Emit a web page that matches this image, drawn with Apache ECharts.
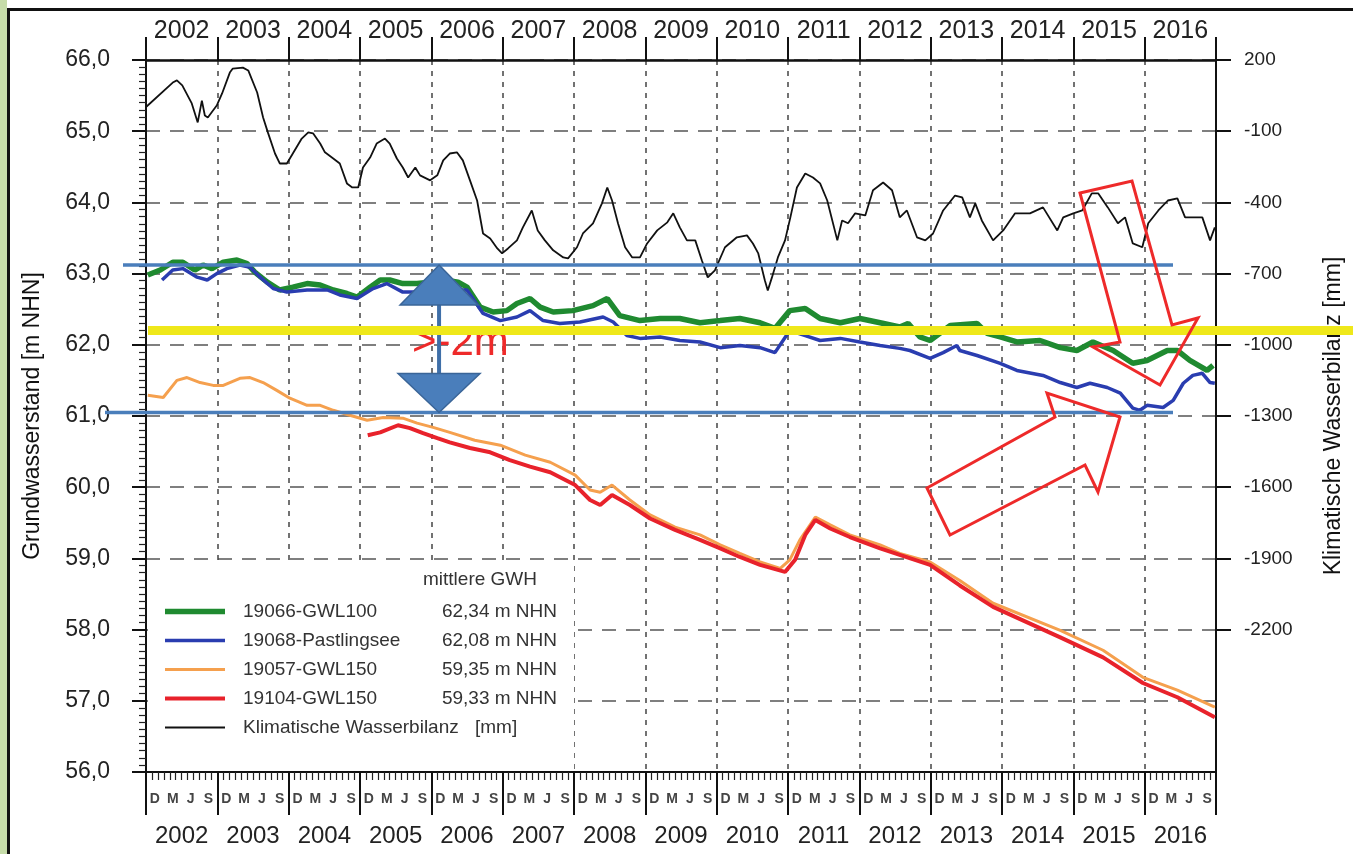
<!DOCTYPE html>
<html><head><meta charset="utf-8">
<script src="https://cdn.jsdelivr.net/npm/echarts@6/dist/echarts.min.js"></script>
<style>html,body{margin:0;padding:0;background:#fff;}#c{width:1353px;height:854px;}</style>
</head><body><div id="c"></div>
<script>
// x values: months since 1 Nov 2001 (start of hydrological year 2002)
const yearLabels = ['2002','2003','2004','2005','2006','2007','2008','2009','2010','2011','2012','2013','2014','2015','2016'];
const monthShown = {1:'D',4:'M',7:'J',10:'S'};
const kwbTicks = [200,-100,-400,-700,-1000,-1300,-1600,-1900,-2200];

const gwl100 = [[0.3,62.98],[2.4,63.05],[4.5,63.16],[6.2,63.16],[8.2,63.05],[9.6,63.12],[11.1,63.07],[13.0,63.16],[15.3,63.19],[17.0,63.14],[18.3,63.02],[20.4,62.88],[22.5,62.77],[24.7,62.81],[27.1,62.86],[29.3,62.84],[31.5,62.77],[33.8,62.72],[35.5,62.67],[37.7,62.81],[39.4,62.91],[41.0,62.91],[43.2,62.86],[45.6,62.86],[47.8,62.88],[50.3,62.91],[52.5,62.88],[54.0,62.81],[56.2,62.53],[58.4,62.46],[60.7,62.48],[62.4,62.58],[64.6,62.65],[66.3,62.53],[68.5,62.46],[71.8,62.48],[75.2,62.55],[77.6,62.65],[79.7,62.41],[83.1,62.34],[86.5,62.37],[89.8,62.37],[93.2,62.31],[96.6,62.34],[99.9,62.37],[103.3,62.31],[105.8,62.23],[108.3,62.48],[110.9,62.51],[113.4,62.37],[116.8,62.31],[120.1,62.37],[123.5,62.31],[126.8,62.25],[128.2,62.30],[130.2,62.11],[131.9,62.06],[135.3,62.27],[139.8,62.30],[141.5,62.16],[143.7,62.11],[146.5,62.04],[150.4,62.06],[153.8,61.96],[156.6,61.92],[159.3,62.04],[162.7,61.92],[166.0,61.74],[168.4,61.78],[171.8,61.92],[173.5,61.92],[175.6,61.78],[178.5,61.64],[179.5,61.71]];

const pastlingsee = [[2.7,62.91],[4.5,63.05],[6.2,63.07],[8.6,62.95],[10.3,62.91],[11.9,63.00],[13.6,63.07],[15.8,63.12],[17.5,63.09],[19.2,62.95],[21.4,62.79],[23.7,62.74],[27.1,62.77],[30.5,62.77],[32.6,62.70],[35.5,62.65],[38.2,62.79],[40.5,62.86],[43.2,62.74],[46.1,62.74],[49.5,62.74],[52.0,62.77],[54.0,62.77],[56.7,62.44],[59.6,62.34],[62.4,62.39],[64.6,62.48],[66.8,62.34],[69.6,62.30],[73.0,62.32],[76.9,62.39],[78.6,62.32],[80.9,62.13],[83.1,62.09],[86.5,62.11],[89.8,62.06],[93.2,62.04],[96.6,61.96],[99.9,61.99],[103.3,61.96],[105.8,61.89],[108.3,62.20],[110.9,62.13],[113.4,62.06],[116.8,62.09],[120.1,62.04],[123.5,61.99],[126.8,61.95],[128.5,61.92],[131.9,61.81],[134.1,61.89],[136.4,61.99],[136.9,61.92],[139.8,61.85],[143.7,61.74],[146.5,61.64],[150.9,61.57],[153.8,61.47],[156.6,61.40],[158.8,61.46],[161.7,61.40],[163.9,61.32],[166.0,61.11],[167.2,61.08],[168.4,61.15],[171.1,61.12],[172.8,61.22],[174.5,61.46],[176.1,61.57],[177.7,61.60],[179.0,61.47],[179.8,61.46]];

const gwl150a = [[0.3,61.29],[2.9,61.26],[5.2,61.50],[6.9,61.54],[9.1,61.47],[11.3,61.43],[13.0,61.43],[15.8,61.53],[17.5,61.54],[19.7,61.47],[22.0,61.36],[24.2,61.25],[27.1,61.15],[29.3,61.15],[31.5,61.08],[34.3,61.01],[37.2,60.94],[39.9,60.98],[43.2,60.97],[45.6,60.90],[48.3,60.84],[51.1,60.77],[55.3,60.66],[59.6,60.59],[63.8,60.45],[68.0,60.35],[72.2,60.17],[74.7,59.96],[76.4,59.93],[78.4,60.03],[81.4,59.82],[84.8,59.61],[89.0,59.44],[93.2,59.33],[96.6,59.19],[99.9,59.07],[103.3,58.95],[106.7,58.86],[108.3,58.98],[110.0,59.26],[112.6,59.58],[115.1,59.47],[118.4,59.33],[123.5,59.19],[126.8,59.07],[131.9,58.95],[136.9,58.69],[142.5,58.37],[153.8,57.99],[161.0,57.71],[167.7,57.33],[173.5,57.15],[179.8,56.91]];

const gwl150b = [[37.3,60.73],[39.4,60.77],[42.4,60.87],[44.4,60.83],[46.6,60.76],[49.0,60.69],[51.1,60.63],[54.5,60.55],[57.9,60.49],[61.2,60.38],[64.6,60.29],[68.0,60.21],[72.2,60.03],[74.7,59.82],[76.4,59.75],[78.4,59.89],[81.4,59.75],[84.8,59.56],[89.0,59.40],[93.2,59.26],[96.6,59.14],[99.9,59.02],[103.3,58.91],[107.5,58.81],[109.2,58.98],[110.9,59.33],[112.6,59.54],[115.1,59.42],[118.4,59.30],[123.5,59.14],[126.8,59.05],[131.9,58.91],[136.9,58.62],[142.5,58.32],[153.8,57.89],[161.0,57.61],[167.7,57.25],[173.5,57.05],[179.8,56.77]];

const kwb = [[0.1,4],[4.5,105],[5.2,114],[6.1,93],[7.7,17],[8.7,-63],[9.4,29],[9.9,-34],[10.4,-42],[11.9,8],[12.8,59],[14.1,147],[14.6,164],[16.3,168],[17.2,156],[18.7,63],[19.7,-42],[20.5,-105],[21.7,-194],[22.5,-236],[23.7,-236],[24.7,-194],[26.2,-131],[27.3,-105],[28.1,-109],[29.3,-152],[30.1,-189],[31.5,-215],[32.6,-236],[33.8,-320],[34.7,-337],[35.7,-337],[36.5,-253],[37.7,-211],[38.8,-152],[40.2,-131],[41.0,-152],[42.2,-215],[43.2,-253],[44.1,-295],[45.3,-253],[46.1,-286],[47.8,-307],[49.0,-286],[50.0,-223],[51.1,-194],[52.3,-189],[53.3,-223],[54.5,-307],[55.7,-392],[56.7,-531],[57.9,-552],[59.1,-594],[59.9,-615],[60.9,-594],[62.4,-560],[63.4,-505],[64.9,-434],[65.9,-518],[67.1,-560],[68.5,-602],[70.2,-632],[71.0,-636],[72.5,-589],[73.5,-531],[75.2,-488],[76.7,-404],[77.6,-337],[78.4,-392],[79.4,-488],[80.6,-589],[81.8,-632],[83.1,-632],[84.3,-573],[86.0,-518],[87.7,-484],[88.7,-446],[89.8,-505],[91.0,-560],[92.4,-560],[93.5,-644],[94.5,-716],[95.7,-686],[97.4,-589],[99.4,-547],[101.1,-539],[102.1,-573],[103.0,-615],[104.1,-728],[104.6,-771],[105.3,-716],[106.3,-632],[107.5,-560],[108.4,-463],[109.5,-337],[110.9,-278],[112.2,-295],[113.4,-320],[114.6,-392],[116.3,-560],[117.1,-476],[118.1,-488],[119.3,-446],[121.0,-455],[122.3,-349],[124.0,-316],[125.5,-349],[126.8,-463],[128.0,-434],[129.7,-547],[131.1,-560],[132.4,-531],[134.1,-434],[136.1,-371],[137.3,-379],[138.6,-463],[139.5,-404],[140.6,-476],[142.5,-560],[144.2,-518],[146.2,-446],[148.7,-446],[150.9,-421],[153.3,-518],[154.3,-463],[156.0,-446],[157.5,-434],[159.1,-362],[160.2,-362],[161.8,-421],[163.5,-488],[164.7,-463],[166.0,-573],[167.6,-589],[168.6,-488],[170.3,-434],[171.9,-392],[173.5,-383],[174.8,-463],[176.1,-463],[177.7,-463],[179.0,-560],[179.8,-505]];

const seriesNames = ['19066-GWL100','19068-Pastlingsee','19057-GWL150','19104-GWL150','Klimatische Wasserbilanz'];
const meanLevels = ['62,34 m NHN','62,08 m NHN','59,35 m NHN','59,33 m NHN'];
const seriesColors = ['#1f8a30','#2a3db0','#f5a04e','#e8222b','#111111'];
const seriesWidths = [5.5, 3.5, 3, 4, 1.8];

// annotation levels
const levelTop = 63.12, levelBottom = 61.05, levelYellow = 62.2, arrowMonth = 49.3;

const monthCats = [];
for (let y = 0; y < yearLabels.length; y++) for (let m = 0; m < 12; m++) monthCats.push(yearLabels[y] + '-' + m);

const FONT = 'Liberation Sans, Arial, sans-serif';
const legendData = seriesNames.map(function (n, i) {
  const h = seriesWidths[i];
  return {name: n, icon: 'path://M0,0H60V' + h + 'H0Z'};
});
const seriesData = [gwl100, pastlingsee, gwl150a, gwl150b, kwb];
const seriesZ = [3, 4, 3, 4, 5];

const chart = echarts.init(document.getElementById('c'));
chart.setOption({
  backgroundColor: '#fff',
  textStyle: {fontFamily: FONT},
  animation: false,
  grid: {left: 146, right: 137, top: 60, bottom: 82},
  title: {text: 'mittlere GWH', left: 423, top: 570, padding: 0,
    textStyle: {fontSize: 19, fontWeight: 'normal', color: '#333', fontFamily: FONT}},
  legend: {
    orient: 'vertical', left: 165, top: 602, padding: 0,
    itemWidth: 60, itemHeight: 14, itemGap: 10, selectedMode: false,
    symbolKeepAspect: true,
    data: legendData,
    formatter: function (name) {
      const i = seriesNames.indexOf(name);
      if (i === 4) return '{k|' + name + '}{u|[mm]}';
      return '{n|' + name + '}{v|' + meanLevels[i] + '}';
    },
    textStyle: {fontFamily: FONT, rich: {
      n: {fontSize: 19, color: '#333', width: 191, lineHeight: 22, padding: [0, 0, 0, 13]},
      v: {fontSize: 19, color: '#333', width: 123, align: 'right', lineHeight: 22},
      k: {fontSize: 19, color: '#333', width: 232, lineHeight: 22, padding: [0, 0, 0, 13]},
      u: {fontSize: 19, color: '#333', lineHeight: 22}
    }}
  },
  xAxis: [
    {type: 'value', min: 0, max: 180, interval: 12, position: 'bottom',
      axisLine: {show: true, onZero: false, lineStyle: {color: '#111', width: 2}},
      axisTick: {show: true, length: 43, lineStyle: {color: '#111', width: 2}},
      minorTick: {show: true, splitNumber: 12, length: 8, lineStyle: {color: '#222', width: 1.2}},
      axisLabel: {show: false},
      splitLine: {show: true, lineStyle: {color: '#444', type: [5, 6], width: 1.5}}},
    {type: 'category', data: monthCats, position: 'bottom', boundaryGap: true,
      axisLine: {show: false, onZero: false}, axisTick: {show: false}, splitLine: {show: false},
      axisLabel: {interval: 0, margin: 20, fontSize: 14, fontWeight: 'bold', color: '#444',
        formatter: function (v, i) { return monthShown[i % 12] || ''; }}},
    {type: 'category', data: yearLabels, position: 'bottom',
      axisLine: {show: false, onZero: false}, axisTick: {show: false}, splitLine: {show: false},
      axisLabel: {interval: 0, margin: 52, fontSize: 24, color: '#222'}},
    {type: 'category', data: yearLabels, position: 'top',
      axisLine: {show: true, onZero: false, lineStyle: {color: '#111', width: 2.5}},
      axisTick: {show: true, interval: 0, length: 23, lineStyle: {color: '#111', width: 2}},
      splitLine: {show: false},
      axisLabel: {interval: 0, margin: 16, fontSize: 25, color: '#222'}}
  ],
  yAxis: [
    {type: 'value', min: 56, max: 66, interval: 1, position: 'left',
      axisLine: {show: true, onZero: false, lineStyle: {color: '#111', width: 2}},
      axisTick: {show: true, length: 14, lineStyle: {color: '#111', width: 2}},
      minorTick: {show: true, splitNumber: 10, length: 7, lineStyle: {color: '#222', width: 1.2}},
      axisLabel: {margin: 36, fontSize: 23, color: '#222', formatter: function (v) { return v.toFixed(1).replace('.', ','); }},
      splitLine: {show: true, lineStyle: {color: '#555', type: [14, 10], width: 1.5}},
      name: 'Grundwasserstand [m NHN]', nameLocation: 'middle', nameRotate: 90, nameGap: 102,
      nameTextStyle: {fontSize: 23, color: '#111', fontFamily: FONT}},
    {type: 'value', min: -2800, max: 200, interval: 300, position: 'right',
      axisLine: {show: true, onZero: false, lineStyle: {color: '#111', width: 2}},
      axisTick: {show: true, length: 15, customValues: kwbTicks, lineStyle: {color: '#111', width: 2}},
      axisLabel: {margin: 28, fontSize: 19, color: '#222', customValues: kwbTicks,
        formatter: function (v) { return String(v); }},
      splitLine: {show: false},
      name: 'Klimatische Wasserbilanz [mm]', nameLocation: 'middle', nameRotate: 90, nameGap: 106,
      nameTextStyle: {fontSize: 23, color: '#111', fontFamily: FONT}}
  ],
  series: seriesNames.map(function (n, i) {
    return {name: n, type: 'line', data: seriesData[i], yAxisIndex: i === 4 ? 1 : 0,
      symbol: 'none', showSymbol: false, z: seriesZ[i],
      lineStyle: {color: seriesColors[i], width: seriesWidths[i]}, itemStyle: {color: seriesColors[i]}};
  })
});

const yT = chart.convertToPixel({yAxisIndex: 0}, levelTop);
const yB = chart.convertToPixel({yAxisIndex: 0}, levelBottom);
const yY = chart.convertToPixel({yAxisIndex: 0}, levelYellow);
const ax = chart.convertToPixel({xAxisIndex: 0}, arrowMonth);
const BLUE = '#4a7ebb', RED = '#ee2a2a';
chart.setOption({graphic: [
  {type: 'rect', shape: {x: 148, y: 564, width: 426, height: 207}, style: {fill: '#fff'}, z: 1},
  {type: 'rect', shape: {x: 0, y: 0, width: 7, height: 854}, style: {fill: '#c6dca9'}, z: 100},
  {type: 'line', shape: {x1: 8.5, y1: 8, x2: 8.5, y2: 854}, style: {stroke: '#111', lineWidth: 3}, z: 100},
  {type: 'line', shape: {x1: 7, y1: 9.5, x2: 1353, y2: 9.5}, style: {stroke: '#111', lineWidth: 3}, z: 100},
  {type: 'text', x: 412, y: 343, style: {text: '>-2m', font: '42px ' + FONT, fill: RED, verticalAlign: 'middle'}, z: 100},
  {type: 'line', shape: {x1: 123, y1: yT, x2: 1173, y2: yT}, style: {stroke: BLUE, lineWidth: 3.5}, z: 101},
  {type: 'line', shape: {x1: 105, y1: yB, x2: 1173, y2: yB}, style: {stroke: BLUE, lineWidth: 3.5}, z: 101},
  {type: 'line', shape: {x1: ax, y1: yT + 38, x2: ax, y2: yB - 38}, style: {stroke: '#3f6fa8', lineWidth: 4}, z: 101},
  {type: 'polygon', shape: {points: [[ax, yT], [ax + 39, yT + 40], [ax - 39, yT + 40]]}, style: {fill: BLUE, stroke: '#3a6598', lineWidth: 1.5}, z: 102},
  {type: 'polygon', shape: {points: [[ax - 41, yB - 39], [ax + 41, yB - 39], [ax, yB]]}, style: {fill: BLUE, stroke: '#3a6598', lineWidth: 1.5}, z: 102},
  {type: 'line', shape: {x1: 148, y1: yY, x2: 1353, y2: yY}, style: {stroke: '#efe81a', lineWidth: 9}, z: 103},
  {type: 'polygon', shape: {points: [[1080, 193], [1132, 181], [1172, 325], [1198, 318], [1160, 385], [1093, 347], [1120, 342]]},
    style: {fill: 'none', stroke: RED, lineWidth: 3}, z: 104},
  {type: 'polygon', shape: {points: [[927, 488], [1055, 417], [1047, 393], [1120, 417], [1098, 492], [1085, 465], [950, 535]]},
    style: {fill: 'none', stroke: RED, lineWidth: 3}, z: 104}
]});
</script></body></html>
